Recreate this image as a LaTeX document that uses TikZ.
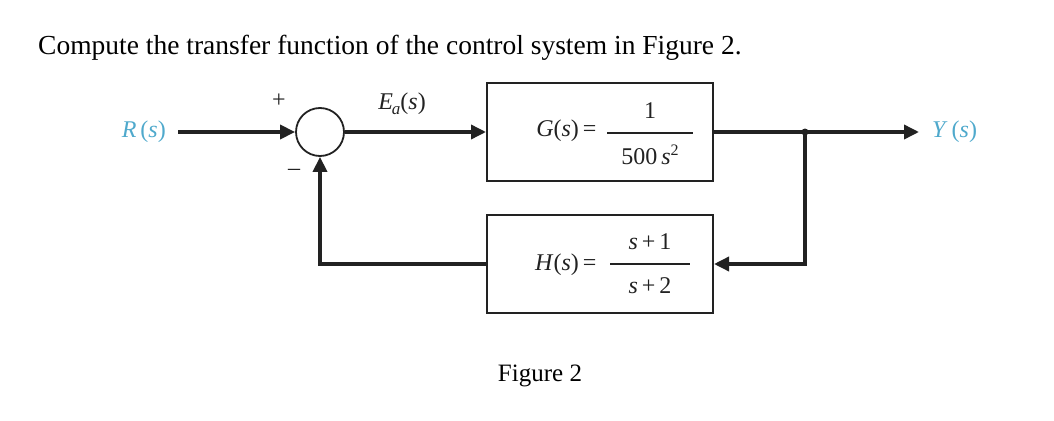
\documentclass[tikz,border=0pt]{standalone}
\usepackage{fontspec}
\setmainfont{Liberation Serif}
\usetikzlibrary{arrows.meta}
\definecolor{sig}{HTML}{4FA9CC}
\definecolor{ink}{HTML}{222222}
\tikzset{
  wire/.style={draw=ink, line width=3.5pt},
  sigarrow/.style={wire, -{Triangle[length=15pt,width=14pt]}},
  block/.style={draw=ink, line width=2pt, minimum width=226pt, minimum height=98pt, inner sep=0pt, text=ink},
  sumnode/.style={circle, draw=ink, line width=1.8pt, minimum size=48pt, inner sep=0pt},
  lbl/.style={font=\fontsize{24}{26}\selectfont, text=ink},
}
\begin{document}
\begin{tikzpicture}[x=1pt,y=-1pt]
\useasboundingbox (0,0) rectangle (1054,420);
\node[anchor=base west, font=\fontsize{27.5}{30}\selectfont, inner sep=0pt] (title) at (38,55) {Compute the transfer function of the control system in Figure 2.};
\node[sumnode] (sum) at (320,132) {};
\node[block] (G) at (600,132) {};
\node[lbl, anchor=east] (Gl) at (600,131) {\textit{G}(\textit{s})\,=};
\node[lbl, inner sep=0pt] (Gn) at (650,111) {1};
\node[lbl, inner sep=0pt] (Gd) at (650,155) {500\,\textit{s}\raisebox{9pt}{\fontsize{16}{17}\selectfont 2}};
\draw[draw=ink, line width=1.2pt] (607,133) -- (693,133);
\node[block] (H) at (600,264) {};
\node[lbl, anchor=east] (Hl) at (600,265) {\textit{H}(\textit{s})\,=};
\node[lbl, inner sep=0pt] (Hn) at (650,242) {\textit{s}\,+\,1};
\node[lbl, inner sep=0pt] (Hd) at (650,286) {\textit{s}\,+\,2};
\draw[draw=ink, line width=1.2pt] (610,264) -- (690,264);
\node[lbl, text=sig, anchor=east, inner sep=0pt] (R) at (166,132) {\textit{R}\,(\textit{s})};
\node[lbl, text=sig, anchor=west, inner sep=0pt] (Y) at (932,132) {\textit{Y}\,(\textit{s})};
\coordinate (rs) at (178,132);
\coordinate (br) at (805,132);
\coordinate (ye) at (919,132);
\node[lbl] (plus) at (279,101) {+};
\node[lbl] (minus) at (294,172) {\textendash};
\node[lbl, anchor=base] (E) at (402,109) {\textit{E\kern-1pt\raisebox{-5pt}{\fontsize{17}{18}\selectfont a}}(\textit{s})};
\node[anchor=base, font=\fontsize{25}{27}\selectfont] (fig) at (540,381) {Figure 2};
\draw[sigarrow] (rs) -- (sum.west);
\draw[sigarrow] (sum.east) -- (G.west);
\draw[wire] (G.east) -- (br);
\draw[sigarrow] (br) -- (ye);
\draw[sigarrow] (br) |- (H.east);
\draw[sigarrow] (H.west) -| (sum.south);
\fill[ink] (br) circle (3.5pt);
\end{tikzpicture}
\end{document}
